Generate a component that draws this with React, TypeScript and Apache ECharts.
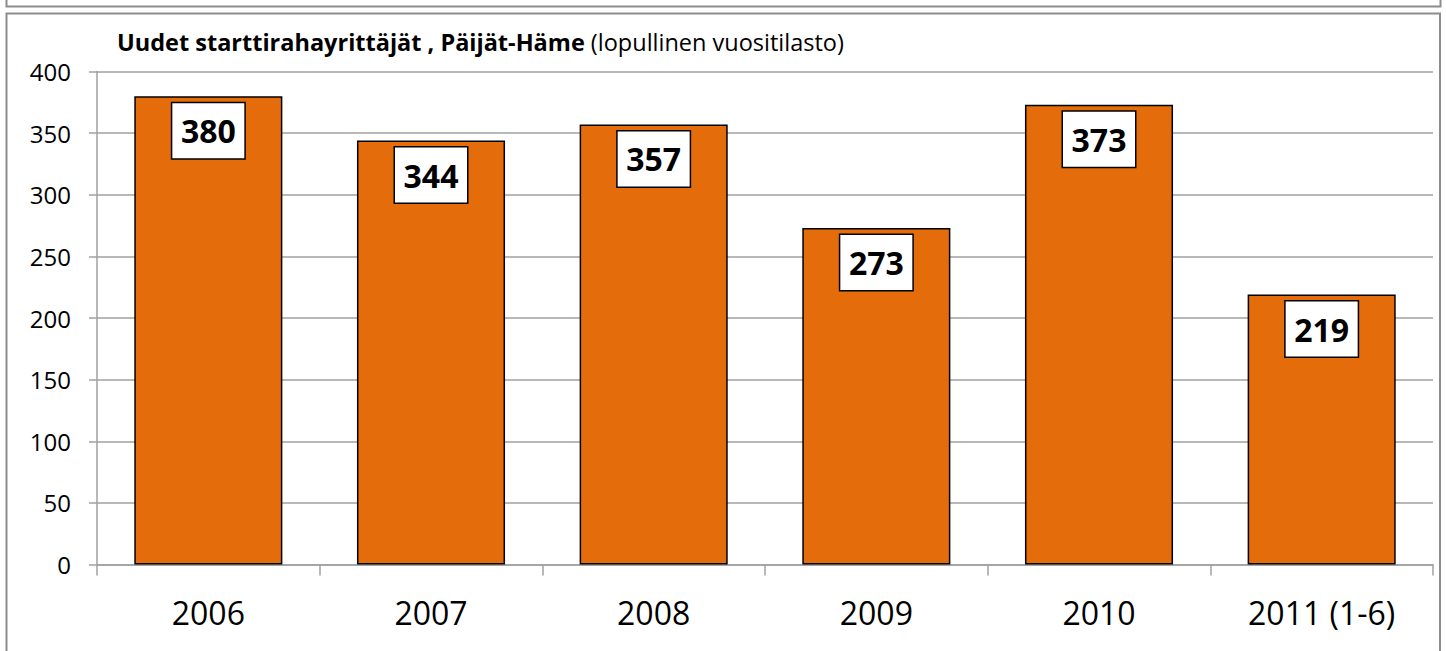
import React, { useEffect, useRef } from "react";
import * as echarts from "echarts";

const categories = ["2006", "2007", "2008", "2009", "2010", "2011 (1-6)"];
const values = [380, 344, 357, 273, 373, 219];
const titleBold = "Uudet starttirahayrittäjät , Päijät-Häme";
const titleNormal = "(lopullinen vuositilasto)";

const FONT = "'Open Sans', 'Noto Sans', sans-serif";

export default function App() {
  const ref = useRef<HTMLDivElement>(null);
  useEffect(() => {
    if (!ref.current) return;
    const chart = echarts.init(ref.current, undefined, { renderer: "svg" });
    const axisGray = "#a0a0a0";
    chart.setOption({
      animation: false,
      backgroundColor: "#ffffff",
      textStyle: { fontFamily: FONT },
      graphic: [
        {
          type: "rect",
          shape: { x: 6.5, y: -10, width: 1434, height: 16.5 },
          style: { fill: "none", stroke: "#8c8c8c", lineWidth: 2 },
          silent: true,
        },
        {
          type: "rect",
          shape: { x: 6.5, y: 13.5, width: 1433.5, height: 660 },
          style: { fill: "none", stroke: "#8c8c8c", lineWidth: 2 },
          silent: true,
        },
        {
          type: "text",
          left: 117,
          top: 30,
          style: {
            text: `{b|${titleBold}} {n|${titleNormal}}`,
            fontFamily: FONT,
            fontSize: 23.5,
            fill: "#000",
            rich: {
              b: { fontFamily: FONT, fontSize: 23.5, fontWeight: "bold", fill: "#000", lineHeight: 30 },
              n: { fontFamily: FONT, fontSize: 23.5, fontWeight: "normal", fill: "#000", lineHeight: 30 },
            },
          },
          silent: true,
        },
      ],
      grid: { left: 97, right: 13, top: 71.5, bottom: 86.5, containLabel: false },
      xAxis: {
        type: "category",
        data: categories,
        axisLine: { show: true, lineStyle: { color: axisGray, width: 1.5 } },
        axisTick: { show: true, length: 11, alignWithLabel: false, lineStyle: { color: axisGray, width: 1.5 } },
        axisLabel: {
          color: "#000",
          fontFamily: FONT,
          fontSize: 32,
          lineHeight: 40,
          margin: 28,
          interval: 0,
        },
        splitLine: { show: false },
      },
      yAxis: {
        type: "value",
        min: 0,
        max: 400,
        interval: 50,
        axisLine: { show: true, lineStyle: { color: axisGray, width: 1.5 } },
        axisTick: { show: true, length: 8, lineStyle: { color: axisGray, width: 1.5 } },
        axisLabel: { color: "#000", fontFamily: FONT, fontSize: 24, margin: 26 },
        splitLine: { show: true, lineStyle: { color: axisGray, width: 1.5 } },
      },
      series: [
        {
          type: "bar",
          data: values,
          barCategoryGap: "33.5%",
          itemStyle: { color: "#E46C0A", borderColor: "#000", borderWidth: 1.5 },
          label: {
            show: true,
            position: "insideTop",
            distance: 7,
            fontFamily: FONT,
            fontSize: 32,
            fontWeight: "bold",
            color: "#000",
            backgroundColor: "#fff",
            borderColor: "#000",
            borderWidth: 1.5,
            width: 72,
            align: "center",
            lineHeight: 39,
            padding: [8, 0, 8, 0],
          },
        },
      ],
    });
    return () => chart.dispose();
  }, []);
  return (
    <div
      ref={ref}
      style={{ position: "fixed", left: 0, top: 0, width: 1446, height: 651 }}
    />
  );
}
